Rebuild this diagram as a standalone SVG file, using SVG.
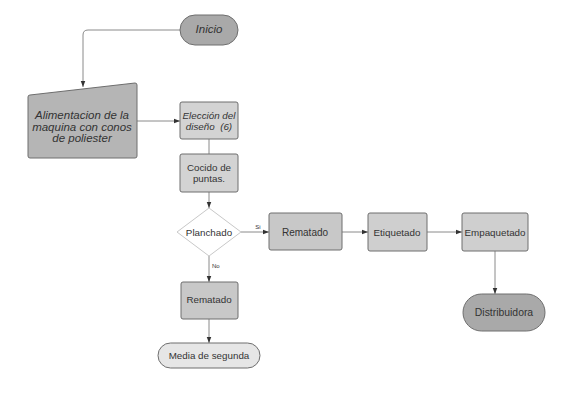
<svg xmlns="http://www.w3.org/2000/svg" width="581" height="402" viewBox="0 0 581 402">
<defs>
<style>
.n{stroke:#6e6e6e;stroke-width:1}
.t{font-family:"Liberation Sans",Arial,sans-serif;fill:#333;text-anchor:middle;dominant-baseline:central;font-size:9.8px}
.i{font-style:italic}
.c{fill:none;stroke:#8a8a8a;stroke-width:1}
.l{font-family:"Liberation Sans",Arial,sans-serif;fill:#333;font-size:6px}
</style>
<marker id="a" viewBox="0 0 8 8" refX="8" refY="4" markerWidth="6" markerHeight="6" orient="auto" markerUnits="userSpaceOnUse"><path d="M0,1 L8,4 L0,7 Z" fill="#333"/></marker>
</defs>
<rect width="581" height="402" fill="#fff"/>
<g id="connectors">
<path class="c" d="M180,30 H88 Q83,30 83,35 V87" marker-end="url(#a)"/>
<path class="c" d="M137,121 H180" marker-end="url(#a)"/>
<path class="c" d="M209,139 V154"/>
<path class="c" d="M209,192 V208" marker-end="url(#a)"/>
<path class="c" d="M241,232 H269" marker-end="url(#a)"/>
<path class="c" d="M342,232 H368" marker-end="url(#a)"/>
<path class="c" d="M427,232 H462" marker-end="url(#a)"/>
<path class="c" d="M495,251 V294" marker-end="url(#a)"/>
<path class="c" d="M209,256 V282" marker-end="url(#a)"/>
<path class="c" d="M209,319 V343" marker-end="url(#a)"/>
<text class="l" x="258" y="229" text-anchor="middle">Si</text>
<text class="l" x="212" y="268">No</text>
</g>
<g id="inicio">
<rect class="n" x="180" y="15" width="58" height="30" rx="15" fill="#a9a9a9"/>
<text class="t i" x="209" y="29" style="font-size:11.5px">Inicio</text>
</g>
<g id="alimentacion">
<path class="n" d="M30,95 L135,83 Q137,83 137,85 V156 Q137,158 135,158 H30 Q28,158 28,156 V97 Q28,95 30,95 Z" fill="#b5b5b5"/>
<text class="t i" x="82" y="115" style="font-size:11.5px">Alimentacion de la</text>
<text class="t i" x="82" y="127" style="font-size:11.5px">maquina con conos</text>
<text class="t i" x="82" y="138" style="font-size:11.5px">de poliester</text>
</g>
<g id="eleccion">
<rect class="n" x="180" y="102" width="58" height="37" rx="2" fill="#d3d3d3"/>
<text class="t i" x="209" y="115">Elección del</text>
<text class="t i" x="209" y="126">diseño&#160; (6)</text>
</g>
<g id="cocido">
<rect class="n" x="180" y="154" width="58" height="38" rx="2" fill="#d3d3d3"/>
<text class="t" x="209" y="167">Cocido de</text>
<text class="t" x="209" y="178">puntas.</text>
</g>
<g id="planchado">
<path d="M209,208 L241,232 L209,256 L177,232 Z" fill="#fff" stroke="#c8c8c8" stroke-width="1"/>
<text class="t" x="209" y="232">Planchado</text>
</g>
<g id="rematado1">
<rect class="n" x="269" y="213" width="73" height="37" rx="2" fill="#c8c8c8"/>
<text class="t" x="305" y="232" style="font-size:10px">Rematado</text>
</g>
<g id="etiquetado">
<rect class="n" x="368" y="213" width="59" height="38" rx="2" fill="#cfcfcf"/>
<text class="t" x="397" y="232">Etiquetado</text>
</g>
<g id="empaquetado">
<rect class="n" x="462" y="213" width="66" height="38" rx="2" fill="#cfcfcf"/>
<text class="t" x="495" y="232">Empaquetado</text>
</g>
<g id="distribuidora">
<rect class="n" x="463" y="294" width="82" height="37" rx="18.5" fill="#a9a9a9"/>
<text class="t" x="504" y="312" style="font-size:10.4px">Distribuidora</text>
</g>
<g id="rematado2">
<rect class="n" x="181" y="282" width="57" height="37" rx="2" fill="#c8c8c8"/>
<text class="t" x="209" y="299">Rematado</text>
</g>
<g id="media">
<rect class="n" x="158" y="343" width="102" height="25" rx="12.5" fill="#e6e6e6"/>
<text class="t" x="209" y="355">Media de segunda</text>
</g>
</svg>
